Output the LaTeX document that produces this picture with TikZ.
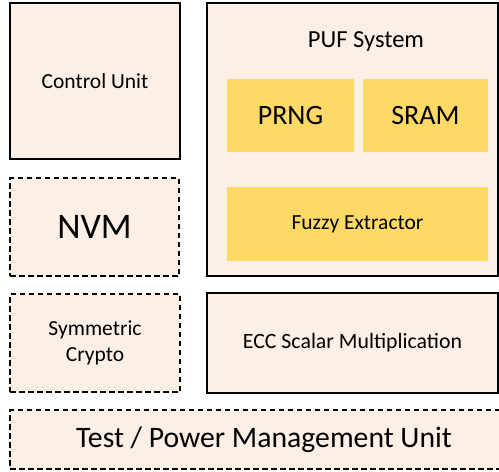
\documentclass[tikz,border=0pt]{standalone}
\usepackage{fontspec}
\setmainfont{Carlito}
\usepackage{tikz}

\definecolor{blockfill}{HTML}{FBEFE6}
\definecolor{subfill}{HTML}{FFD966}

\tikzset{
	unit/.style={draw=black, line width=1.3pt, fill=blockfill, inner sep=0pt, align=center},
	optunit/.style={unit, dashed, dash pattern=on 5.5pt off 3.5pt},
	subunit/.style={fill=subfill, inner sep=0pt, align=center},
}
\newcommand{\fs}[2]{\fontsize{#1}{#2}\selectfont}

\begin{document}
\begin{tikzpicture}[x=1pt, y=-1pt]
\useasboundingbox (0,0) rectangle (499,472);

%left column
\node[unit, minimum width=170pt, minimum height=156pt, font=\fs{21.5}{26}] (ctrl) at (95,81) {Control Unit};
\node[optunit, minimum width=169pt, minimum height=98pt, font=\fs{36}{43}] (nvm) at (94.5,227) {NVM};
\node[optunit, minimum width=170pt, minimum height=98pt, font=\fs{21.5}{26}] (sym) at (95,343) {Symmetric\\Crypto};

%puf system
\node[unit, minimum width=291pt, minimum height=273pt] (puf) at (352.5,139.5) {};
\node[font=\fs{24.5}{29}] (puflabel) at (366,42) {PUF System};
\node[subunit, minimum width=127pt, minimum height=73pt, font=\fs{28}{34}] (prng) at (290.5,115.5) {PRNG};
\node[subunit, minimum width=125pt, minimum height=73pt, font=\fs{28}{34}] (sram) at (425.5,115.5) {SRAM};
\node[subunit, minimum width=261pt, minimum height=74pt, font=\fs{21.5}{26}] (fuzzy) at (357.5,224) {Fuzzy Extractor};

%bottom
\node[unit, minimum width=291pt, minimum height=100pt, font=\fs{21.8}{26}] (ecc) at (352.5,343) {ECC Scalar Multiplication};
\node[optunit, minimum width=508pt, minimum height=59pt, font=\fs{29.7}{36}] (tpm) at (264,439.5) {Test / Power Management Unit};

\end{tikzpicture}
\end{document}
